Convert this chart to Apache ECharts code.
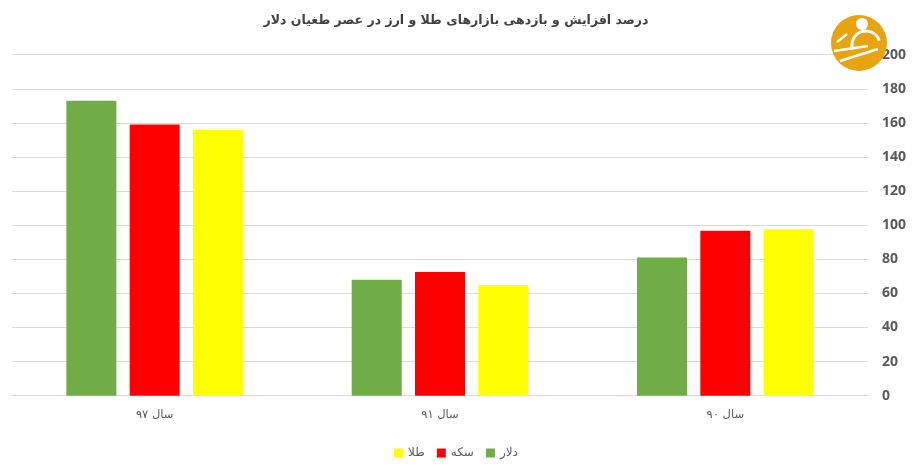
<!DOCTYPE html>
<html>
<head>
<meta charset="utf-8">
<script src="https://cdn.jsdelivr.net/npm/echarts@6/dist/echarts.min.js"></script>
<style>html,body{margin:0;padding:0;background:#fff}#c{width:912px;height:471px}</style>
</head>
<body>
<div id="c"></div>
<script>
const titleText = 'درصد افزایش و بازدهی بازارهای طلا و ارز در عصر طغیان دلار';
const categories = ['سال ۹۷', 'سال ۹۱', 'سال ۹۰'];
const seriesNames = ['دلار', 'سکه', 'طلا'];
const dollar = [173, 68, 81];
const coin = [159, 72.6, 96.8];
const gold = [156, 65, 97.6];
const legendOrder = ['طلا', 'سکه', 'دلار'];
const yMin = 0, yMax = 200, yStep = 20;

const colors = ['#70AD47', '#FF0000', '#FFFF00'];
const values = [dollar, coin, gold];

const chart = echarts.init(document.getElementById('c'), null, {renderer: 'canvas'});
chart.setOption({
  animation: false,
  backgroundColor: '#fff',
  title: {
    text: titleText, left: 'center', top: 9,
    textStyle: {fontFamily: 'DejaVu Sans', fontSize: 12.5, fontWeight: 'bold', color: '#404040'}
  },
  legend: {
    data: legendOrder, bottom: 7, left: 'center', itemWidth: 9, itemHeight: 9, itemGap: 12,
    icon: 'rect',
    textStyle: {fontFamily: 'DejaVu Sans', fontSize: 12, color: '#595959'}
  },
  grid: {left: 12, right: 44, top: 54.7, bottom: 75.3, containLabel: false},
  xAxis: {
    type: 'category', data: categories,
    axisLine: {lineStyle: {color: '#d9d9d9'}},
    axisTick: {show: false},
    axisLabel: {fontFamily: 'DejaVu Sans', fontSize: 11.5, color: '#595959', margin: 13}
  },
  yAxis: {
    type: 'value', position: 'right', min: yMin, max: yMax, interval: yStep,
    axisLine: {show: false}, axisTick: {show: false},
    splitLine: {lineStyle: {color: '#d9d9d9'}},
    axisLabel: {fontFamily: 'Open Sans', fontSize: 14, fontWeight: 'bold', color: '#595959', margin: 14, align: 'left'}
  },
  series: seriesNames.map((n, i) => ({
    name: n, type: 'bar', data: values[i], barWidth: 50, barGap: '26.6%',
    itemStyle: {color: colors[i]}
  })),
  graphic: [
    {type: 'circle', shape: {cx: 859, cy: 43, r: 28}, style: {fill: '#E8A30F'}, z: 100},
    {type: 'circle', shape: {cx: 862, cy: 24, r: 6}, style: {fill: '#fff'}, z: 101},
    {type: 'arc', shape: {cx: 866, cy: 45, r: 14, startAngle: Math.PI * 0.9, endAngle: Math.PI * 1.9}, style: {stroke: '#fff', lineWidth: 3, fill: null}, z: 101},
    {type: 'line', shape: {x1: 834, y1: 51, x2: 868, y2: 46}, style: {stroke: '#fff', lineWidth: 2.5}, z: 101},
    {type: 'line', shape: {x1: 840, y1: 61, x2: 878, y2: 49}, style: {stroke: '#fff', lineWidth: 2.5}, z: 101},
    {type: 'line', shape: {x1: 847, y1: 34, x2: 837, y2: 42}, style: {stroke: '#fff', lineWidth: 2.5}, z: 101}
  ]
});
</script>
</body>
</html>
